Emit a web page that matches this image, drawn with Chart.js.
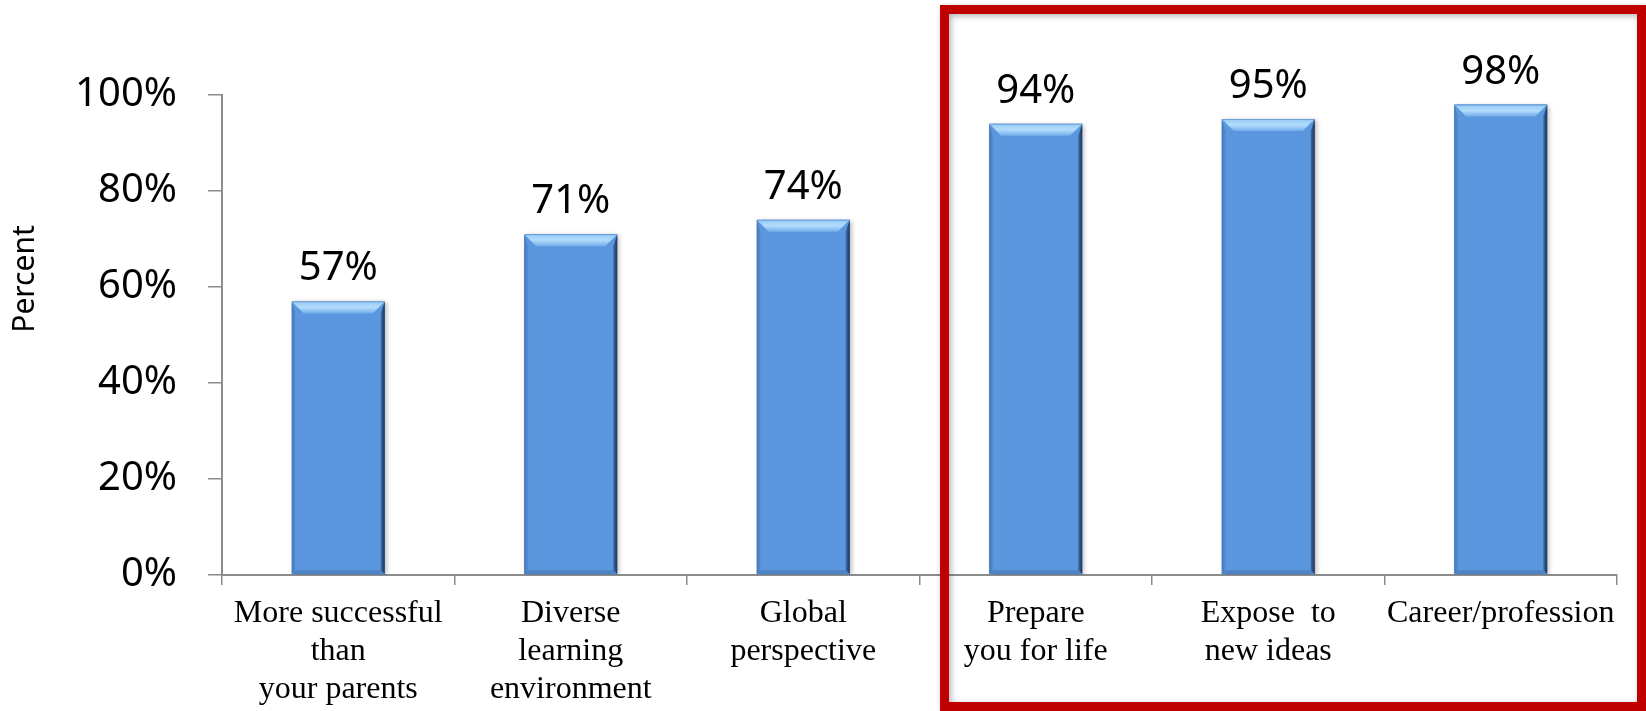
<!DOCTYPE html>
<html>
<head>
<meta charset="utf-8">
<script src="https://cdn.jsdelivr.net/npm/chart.js@4.4.1/dist/chart.umd.min.js"></script>
<style>
  html, body { margin: 0; padding: 0; background: #fff; }
  #wrap { width: 1646px; height: 711px; }
</style>
</head>
<body>
<div id="wrap"><canvas id="myChart" width="1646" height="711"></canvas></div>
<script>
const categories = [
  ["More successful", "than", "your parents"],
  ["Diverse", "learning", "environment"],
  ["Global", "perspective"],
  ["Prepare", "you for life"],
  ["Expose  to", "new ideas"],
  ["Career/profession"],
];
const percentValues = [57, 71, 74, 94, 95, 98];
const yTicks = [0, 20, 40, 60, 80, 100];
const axisTitle = "Percent";

const barColor = "#5b97de";
const axisColor = "#8c8c8c";

// soft shadow under the bars, switched off again before the bevel is painted
const barShadow = {
  id: "barShadow",
  beforeDatasetsDraw(chart) {
    const ctx = chart.ctx;
    ctx.save();
    ctx.shadowColor = "rgba(0,0,0,0.3)";
    ctx.shadowBlur = 5;
    ctx.shadowOffsetX = 2;
    ctx.shadowOffsetY = 1;
  },
  afterDatasetsDraw(chart) {
    chart.ctx.restore();
  },
};

// Excel-like bevel on every bar, drawn on top of the library's bar
const bevelBars = {
  id: "bevelBars",
  afterDatasetsDraw(chart) {
    const ctx = chart.ctx;
    chart.getDatasetMeta(0).data.forEach((bar) => {
      const { x, y, base, width } = bar.getProps(["x", "y", "base", "width"], true);
      const x0 = x - width / 2;
      const x1 = x + width / 2;
      const b = 12;
      const s = 4;
      ctx.save();

      let g = ctx.createLinearGradient(0, y, 0, y + b);
      g.addColorStop(0, "#4f88cc");
      g.addColorStop(0.12, "#9ccdf8");
      g.addColorStop(0.5, "#b2dcfc");
      g.addColorStop(1, "#72ade9");
      ctx.fillStyle = g;
      ctx.beginPath();
      ctx.moveTo(x0, y);
      ctx.lineTo(x1, y);
      ctx.lineTo(x1 - b, y + b);
      ctx.lineTo(x0 + b, y + b);
      ctx.closePath();
      ctx.fill();

      g = ctx.createLinearGradient(x1 - s, 0, x1, 0);
      g.addColorStop(0, "#3f6fa8");
      g.addColorStop(1, "#1a3256");
      ctx.fillStyle = g;
      ctx.beginPath();
      ctx.moveTo(x1, y);
      ctx.lineTo(x1, base);
      ctx.lineTo(x1 - s, base - s);
      ctx.lineTo(x1 - s, y + b);
      ctx.closePath();
      ctx.fill();

      g = ctx.createLinearGradient(x0, 0, x0 + s, 0);
      g.addColorStop(0, "#4277b6");
      g.addColorStop(1, "#5890d6");
      ctx.fillStyle = g;
      ctx.beginPath();
      ctx.moveTo(x0, y);
      ctx.lineTo(x0 + s, y + b);
      ctx.lineTo(x0 + s, base - s);
      ctx.lineTo(x0, base);
      ctx.closePath();
      ctx.fill();

      ctx.fillStyle = "#4f84c4";
      ctx.beginPath();
      ctx.moveTo(x0, base);
      ctx.lineTo(x0 + s, base - s);
      ctx.lineTo(x1 - s, base - s);
      ctx.lineTo(x1, base);
      ctx.closePath();
      ctx.fill();

      ctx.restore();
    });
  },
};

const valueLabels = {
  id: "valueLabels",
  afterDatasetsDraw(chart) {
    const ctx = chart.ctx;
    ctx.save();
    ctx.font = "40px 'Noto Sans'";
    ctx.fillStyle = "#000";
    ctx.textAlign = "center";
    ctx.textBaseline = "alphabetic";
    chart.getDatasetMeta(0).data.forEach((bar, i) => {
      ctx.fillText(percentValues[i] + "%", bar.x, bar.y - 21);
    });
    ctx.restore();
  },
};

const sideTitle = {
  id: "sideTitle",
  afterDraw(chart) {
    const ctx = chart.ctx;
    ctx.save();
    ctx.translate(25, 279);
    ctx.rotate(-Math.PI / 2);
    ctx.font = "30px 'Noto Sans'";
    ctx.fillStyle = "#000";
    ctx.textAlign = "center";
    ctx.textBaseline = "middle";
    ctx.fillText(axisTitle, 0, 0);
    ctx.restore();
  },
};

// red frame around the last three categories
const highlightBox = {
  id: "highlightBox",
  afterDraw(chart) {
    const ctx = chart.ctx;
    const left = chart.scales.x.getPixelForValue(2.5) + 25;
    const top = 9.5;
    const right = chart.width - 4.5;
    const bottom = chart.height - 4.5;
    ctx.save();
    ctx.strokeStyle = "#c00000";
    ctx.lineWidth = 9;
    ctx.shadowColor = "rgba(0,0,0,0.3)";
    ctx.shadowBlur = 6;
    ctx.shadowOffsetX = 2;
    ctx.shadowOffsetY = 2;
    ctx.strokeRect(left, top, right - left, bottom - top);
    ctx.restore();
  },
};

new Chart(document.getElementById("myChart"), {
  type: "bar",
  data: {
    labels: categories,
    datasets: [
      {
        label: axisTitle,
        data: percentValues,
        backgroundColor: barColor,
        borderWidth: 0,
        categoryPercentage: 1,
        barPercentage: 0.4,
      },
    ],
  },
  options: {
    responsive: false,
    animation: false,
    devicePixelRatio: 1,
    layout: { padding: { left: 0, right: 29, top: 95, bottom: 0 } },
    plugins: {
      legend: { display: false },
      tooltip: { enabled: false },
    },
    scales: {
      x: {
        grid: {
          drawOnChartArea: false,
          drawTicks: true,
          tickLength: 10,
          color: axisColor,
          lineWidth: 1.5,
        },
        border: { display: true, color: axisColor, width: 2 },
        ticks: {
          color: "#000",
          font: { family: "'Liberation Serif'", size: 32, lineHeight: 1.2 },
          padding: 9,
          maxRotation: 0,
          autoSkip: false,
        },
        afterFit: (scale) => {
          scale.height = 136;
        },
      },
      y: {
        min: 0,
        max: 100,
        afterBuildTicks: (scale) => {
          scale.ticks = yTicks.map((v) => ({ value: v }));
        },
        grid: {
          drawOnChartArea: false,
          tickLength: 14,
          color: axisColor,
          lineWidth: 1.5,
        },
        border: { display: true, color: axisColor, width: 2 },
        ticks: {
          color: "#000",
          font: { family: "'Noto Sans'", size: 40 },
          padding: 31,
          callback: (v) => v + "%",
        },
        afterFit: (scale) => {
          scale.width = 222;
        },
      },
    },
  },
  plugins: [barShadow, bevelBars, valueLabels, sideTitle, highlightBox],
});
</script>
</body>
</html>
